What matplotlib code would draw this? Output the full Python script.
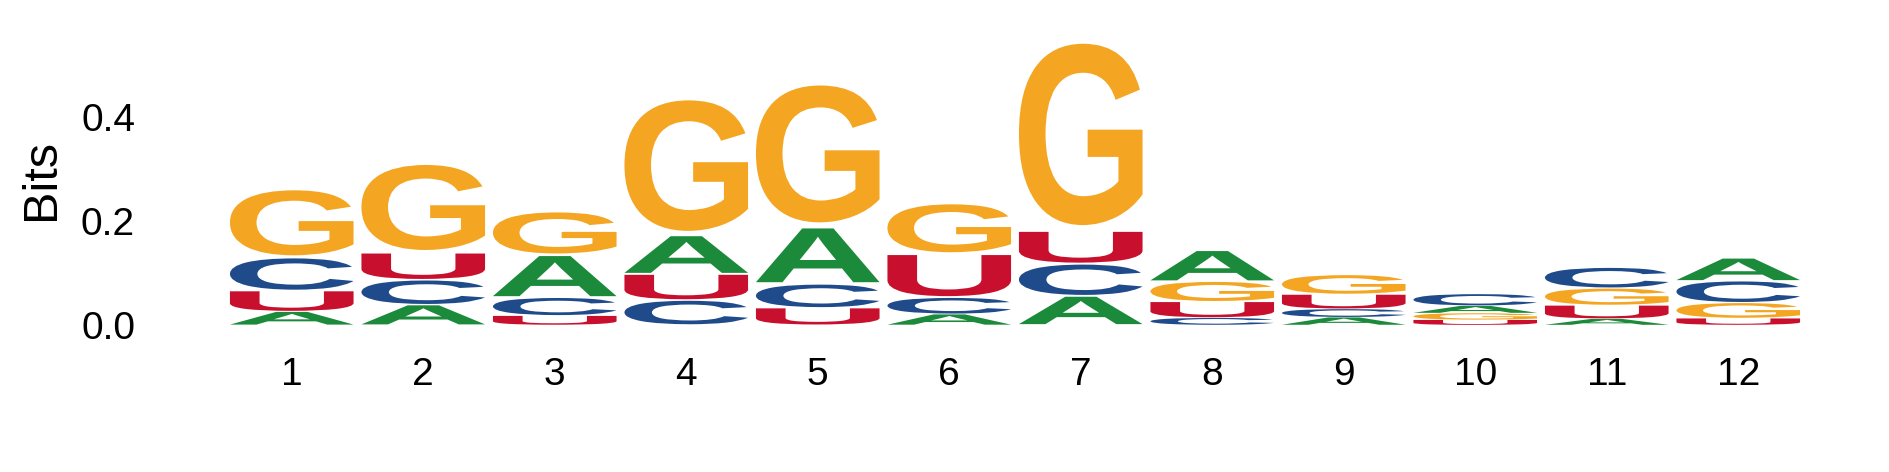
import matplotlib
matplotlib.use("Agg")
import matplotlib.pyplot as plt
from matplotlib.textpath import TextPath
from matplotlib.patches import PathPatch
from matplotlib.font_manager import FontProperties
from matplotlib.transforms import Affine2D

# ---- data (bits per letter per position) ----
positions = list(range(1, 13))
letters = ["A", "C", "G", "U"]
A_bits = [0.026, 0.039, 0.082, 0.075, 0.110, 0.021, 0.056, 0.060, 0.015, 0.014, 0.012, 0.044]
C_bits = [0.064, 0.048, 0.035, 0.048, 0.046, 0.032, 0.062, 0.014, 0.016, 0.023, 0.040, 0.042]
G_bits = [0.133, 0.174, 0.084, 0.267, 0.280, 0.098, 0.371, 0.039, 0.038, 0.013, 0.033, 0.030]
U_bits = [0.040, 0.052, 0.018, 0.050, 0.033, 0.084, 0.063, 0.031, 0.028, 0.010, 0.026, 0.013]
ytick_vals = [0.0, 0.2, 0.4]
ytick_labels = ["0.0", "0.2", "0.4"]

colors = {"A": "#1b8a3a", "C": "#1f4b8b", "G": "#f4a623", "U": "#c8102e"}
series = {"A": A_bits, "C": C_bits, "G": G_bits, "U": U_bits}

W, H, DPI = 1889, 472, 100
fig = plt.figure(figsize=(W / DPI, H / DPI), dpi=DPI)
fig.patch.set_facecolor("white")

# axes placement in pixels
left_px, right_px = 226, 1804
zero_px, top_px = 325, 33.8
ax = fig.add_axes([left_px / W, (H - zero_px) / H,
                   (right_px - left_px) / W, (zero_px - top_px) / H])
ax.set_xlim(0.5, 12.5)
ax.set_ylim(0, 0.56)

fp = FontProperties(family="Liberation Sans", weight="bold")
width = 0.94
vpad = 0.03


def draw_char(c, x, y0, h, color):
    tp = TextPath((0, 0), c, size=1, prop=fp)
    ext = tp.get_extents()
    hh = h * (1 - 2 * vpad)
    t = (Affine2D().translate(-ext.x0, -ext.y0)
         .scale(width / ext.width, hh / ext.height)
         .translate(x - width / 2, y0 + h * vpad))
    ax.add_patch(PathPatch(t.transform_path(tp), facecolor=color,
                           edgecolor="none", lw=0))


for i, pos in enumerate(positions):
    vals = sorted([(series[l][i], l) for l in letters])
    floor = 0.0
    for v, l in vals:
        draw_char(l, pos, floor, v, colors[l])
        floor += v

for s in ax.spines.values():
    s.set_visible(False)

tick_font = FontProperties(family="Liberation Sans", size=28)
ax.set_yticks(ytick_vals)
ax.set_yticklabels(ytick_labels, fontproperties=tick_font)
ax.set_xticks(positions)
ax.set_xticklabels([str(p) for p in positions], fontproperties=tick_font)
ax.tick_params(axis="y", length=0, pad=(226 - 135) / 1.389)
ax.tick_params(axis="x", length=0, pad=32 / 1.389)

fig.text(42 / W, 1 - 180 / H, "Bits", rotation=90, ha="center", va="center",
         fontsize=35, family="Liberation Sans")

fig.savefig("out.png", dpi=DPI, facecolor="white")
